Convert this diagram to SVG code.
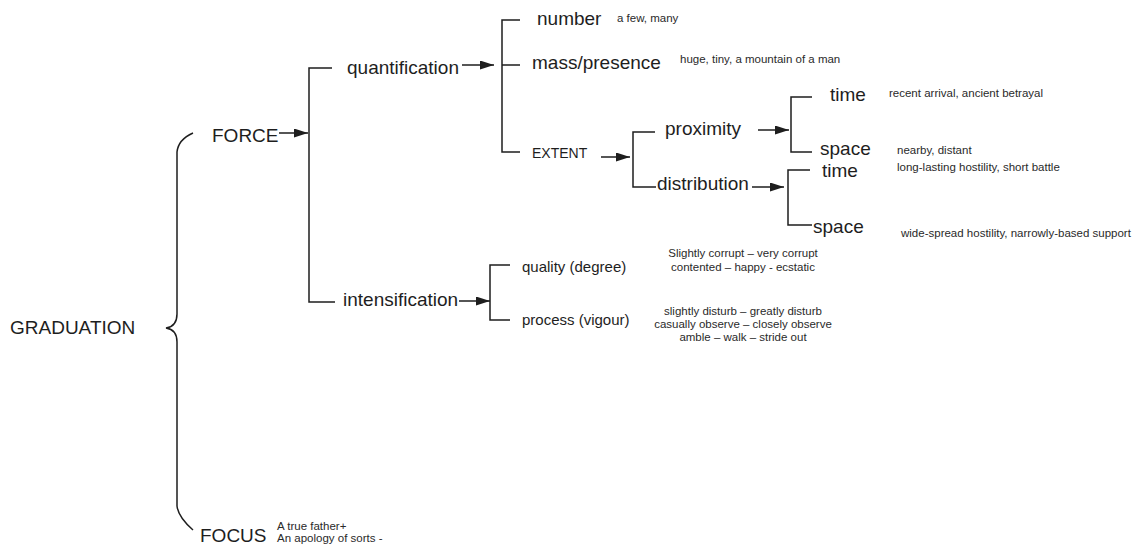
<svg xmlns="http://www.w3.org/2000/svg" width="1144" height="550" viewBox="0 0 1144 550">
  <style>
    .lbl { font-family: "Liberation Sans", Arial, sans-serif; font-size: 19px; fill: #1e1e1e; }
    .mid { font-family: "Liberation Sans", Arial, sans-serif; font-size: 15px; fill: #1e1e1e; }
    .ext { font-family: "Liberation Sans", Arial, sans-serif; font-size: 14px; fill: #1e1e1e; }
    .ex  { font-family: "Liberation Sans", Arial, sans-serif; font-size: 11.5px; fill: #2a2a2a; }
    .c   { text-anchor: middle; }
    .br  { fill: none; stroke: #1e1e1e; stroke-width: 1.5; }
    .arr { fill: none; stroke: #1e1e1e; stroke-width: 1.5; marker-end: url(#head); }
  </style>
  <defs>
    <marker id="head" markerUnits="userSpaceOnUse" markerWidth="14" markerHeight="9" refX="14" refY="4.5" orient="auto">
      <path d="M0,0 L14,4.5 L0,9 z" fill="#1e1e1e"/>
    </marker>
  </defs>
  <rect width="1144" height="550" fill="#ffffff"/>

  <!-- connectors: brace, bracket trees and arrows -->
  <g id="connectors">
    <path class="br" d="M193,133 C184,137 178,142 177,152 L177,314 C177,322 173,327 166,328 C173,329 177,334 177,342 L177,506 C178,515 185,523 193,530"/>
    <path class="br" d="M332,68 H309 V302 H335"/>
    <path class="br" d="M520,20 H502 V152 H520 M502,65 H520"/>
    <path class="br" d="M655,132 H633 V187 H656"/>
    <path class="br" d="M812,97 H791 V152 H812"/>
    <path class="br" d="M810,170 H788 V225 H812"/>
    <path class="br" d="M510,265 H490 V320 H510"/>
    <line class="arr" x1="279" y1="133" x2="308" y2="133"/>
    <line class="arr" x1="462" y1="65" x2="494" y2="65"/>
    <line class="arr" x1="601" y1="157" x2="630" y2="157"/>
    <line class="arr" x1="758" y1="130" x2="789" y2="130"/>
    <line class="arr" x1="752" y1="187" x2="784" y2="187"/>
    <line class="arr" x1="459" y1="301" x2="490" y2="301"/>
  </g>

  <g id="graduation"><text class="lbl" x="10" y="334">GRADUATION</text></g>
  <g id="force"><text class="lbl" x="212" y="141.5">FORCE</text></g>
  <g id="focus">
    <text class="lbl" x="200" y="542">FOCUS</text>
    <text class="ex" x="277" y="530">A true father+</text>
    <text class="ex" x="277" y="542">An apology of sorts -</text>
  </g>

  <g id="quantification"><text class="lbl" x="347" y="73.5">quantification</text></g>
  <g id="number">
    <text class="lbl" x="537" y="25">number</text>
    <text class="ex" x="617" y="22">a few, many</text>
  </g>
  <g id="mass-presence">
    <text class="lbl" x="532" y="69">mass/presence</text>
    <text class="ex" x="680" y="63">huge, tiny, a mountain of a man</text>
  </g>
  <g id="extent"><text class="ext" x="532" y="158">EXTENT</text></g>
  <g id="proximity"><text class="lbl" x="665" y="135">proximity</text></g>
  <g id="proximity-time">
    <text class="lbl" x="830" y="101">time</text>
    <text class="ex" x="889" y="97">recent arrival, ancient betrayal</text>
  </g>
  <g id="proximity-space">
    <text class="lbl" x="820" y="155">space</text>
    <text class="ex" x="897" y="154">nearby, distant</text>
  </g>
  <g id="distribution"><text class="lbl" x="657" y="190">distribution</text></g>
  <g id="distribution-time">
    <text class="lbl" x="822" y="177">time</text>
    <text class="ex" x="897" y="171">long-lasting hostility, short battle</text>
  </g>
  <g id="distribution-space">
    <text class="lbl" x="813" y="233">space</text>
    <text class="ex" x="901" y="237">wide-spread hostility, narrowly-based support</text>
  </g>

  <g id="intensification"><text class="lbl" x="343" y="306">intensification</text></g>
  <g id="quality">
    <text class="mid" x="522" y="272">quality (degree)</text>
    <text class="ex c" x="743" y="257">Slightly corrupt – very corrupt</text>
    <text class="ex c" x="743" y="271">contented – happy - ecstatic</text>
  </g>
  <g id="process">
    <text class="mid" x="522" y="325">process (vigour)</text>
    <text class="ex c" x="743" y="315">slightly disturb – greatly disturb</text>
    <text class="ex c" x="743" y="328">casually observe – closely observe</text>
    <text class="ex c" x="743" y="341">amble – walk – stride out</text>
  </g>
</svg>
